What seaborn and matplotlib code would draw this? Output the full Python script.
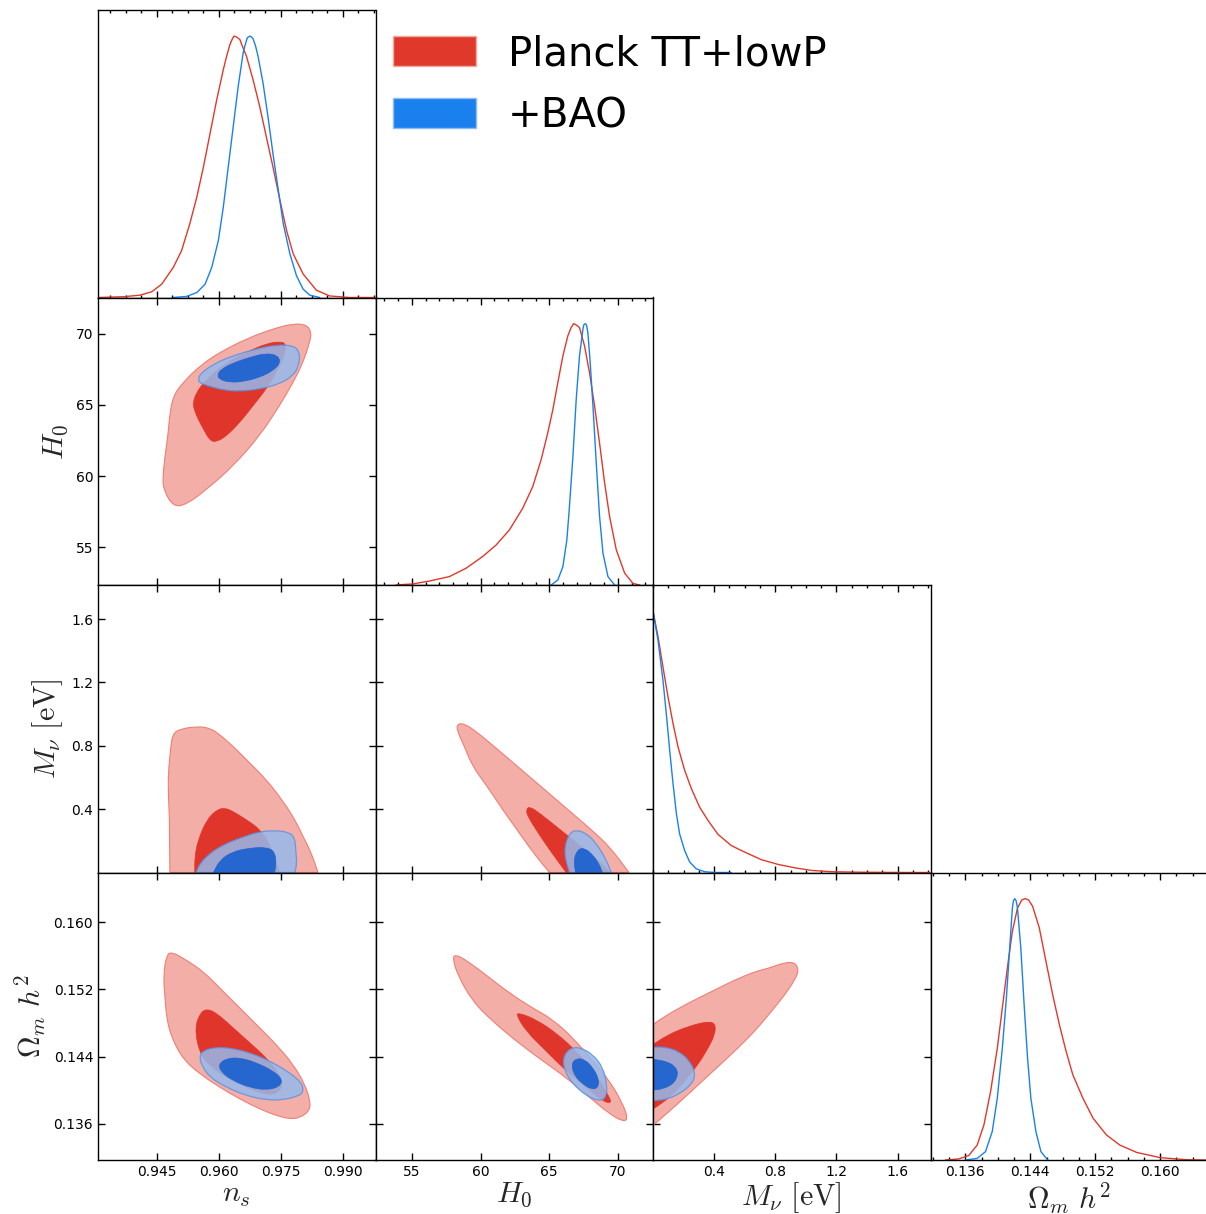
import matplotlib
matplotlib.use("Agg")
import matplotlib.pyplot as plt
import seaborn as sns
from matplotlib.patches import Patch, PathPatch
from matplotlib.path import Path
from matplotlib.ticker import FixedLocator, MultipleLocator, FormatStrFormatter, NullLocator

# ---- 1D marginals (peak normalised to 1) ----
ns_planck_x = [0.9309, 0.9370, 0.9410, 0.9438, 0.9462, 0.9490, 0.9510, 0.9530, 0.9547, 0.9563,
               0.9579, 0.9595, 0.9611, 0.9619, 0.9627, 0.9633, 0.9637, 0.9643, 0.9651, 0.9659,
               0.9667, 0.9683, 0.9699, 0.9715, 0.9731, 0.9748, 0.9764, 0.9780, 0.9804, 0.9836,
               0.9868, 0.9916, 0.9977]
ns_planck_p = [0.0, 0.003, 0.009, 0.022, 0.051, 0.115, 0.179, 0.282, 0.385, 0.5,
               0.628, 0.756, 0.872, 0.923, 0.968, 0.990, 1.0, 0.997, 0.987, 0.954,
               0.923, 0.833, 0.731, 0.615, 0.5, 0.372, 0.256, 0.167, 0.090, 0.028,
               0.006, 0.0, 0.0]
ns_bao_x = [0.9490, 0.9522, 0.9547, 0.9567, 0.9583, 0.9599, 0.9611, 0.9623, 0.9635, 0.9647,
            0.9659, 0.9663, 0.9669, 0.9675, 0.9679, 0.9683, 0.9689, 0.9695, 0.9707, 0.9719,
            0.9731, 0.9744, 0.9756, 0.9772, 0.9788, 0.9804, 0.9820, 0.9844]
ns_bao_p = [0.0, 0.004, 0.019, 0.051, 0.115, 0.218, 0.346, 0.5, 0.654, 0.808,
            0.936, 0.962, 0.994, 1.0, 0.997, 0.990, 0.962, 0.923, 0.821, 0.692,
            0.551, 0.410, 0.282, 0.167, 0.083, 0.032, 0.009, 0.0]

H0_planck_x = [53.83, 55.05, 56.26, 57.72, 58.94, 60.15, 61.13, 62.10, 63.07, 63.80,
               64.41, 64.89, 65.26, 65.62, 65.99, 66.35, 66.59, 66.77, 66.96, 67.20,
               67.57, 67.93, 68.30, 68.66, 69.03, 69.39, 69.88, 70.49, 71.09, 71.58]
H0_planck_p = [0.0, 0.004, 0.015, 0.032, 0.064, 0.109, 0.153, 0.211, 0.294, 0.377,
               0.480, 0.582, 0.671, 0.774, 0.876, 0.953, 0.985, 1.0, 0.995, 0.985,
               0.914, 0.812, 0.684, 0.543, 0.390, 0.262, 0.134, 0.045, 0.006, 0.0]
H0_bao_x = [65.14, 65.62, 65.99, 66.28, 66.47, 66.72, 66.96, 67.20, 67.45, 67.52,
            67.62, 67.71, 67.81, 67.98, 68.18, 68.42, 68.66, 68.91, 69.27, 69.76]
H0_bao_p = [0.0, 0.019, 0.070, 0.173, 0.301, 0.492, 0.710, 0.877, 0.979, 0.996,
            1.0, 0.995, 0.965, 0.850, 0.684, 0.467, 0.262, 0.121, 0.032, 0.0]

mnu_planck_x = [0.0, 0.033, 0.065, 0.098, 0.131, 0.164, 0.207, 0.251, 0.305, 0.360,
                0.425, 0.512, 0.600, 0.709, 0.818, 0.927, 1.036, 1.166, 1.363, 1.690, 1.810]
mnu_planck_p = [1.0, 0.902, 0.787, 0.672, 0.570, 0.480, 0.391, 0.321, 0.250, 0.199,
                0.146, 0.103, 0.078, 0.049, 0.031, 0.018, 0.008, 0.003, 0.001, 0.0, 0.0]
mnu_bao_x = [0.0, 0.033, 0.065, 0.087, 0.109, 0.131, 0.153, 0.174, 0.207, 0.240,
             0.283, 0.338, 0.403, 0.512]
mnu_bao_p = [1.0, 0.888, 0.736, 0.608, 0.468, 0.340, 0.225, 0.148, 0.084, 0.040,
             0.014, 0.003, 0.0, 0.0]

omh2_planck_x = [0.13352, 0.13517, 0.13641, 0.13745, 0.13828, 0.13910, 0.13993, 0.14055, 0.14117,
                 0.14179, 0.14242, 0.14295, 0.14337, 0.14378, 0.14428, 0.14511, 0.14593, 0.14676,
                 0.14759, 0.14842, 0.14924, 0.15049, 0.15173, 0.15338, 0.15504, 0.15711, 0.16001,
                 0.16332, 0.16572]
omh2_planck_p = [0.0, 0.004, 0.017, 0.057, 0.134, 0.261, 0.427, 0.581, 0.734,
                 0.875, 0.964, 0.995, 1.0, 0.995, 0.971, 0.888, 0.760, 0.632,
                 0.517, 0.415, 0.326, 0.236, 0.160, 0.096, 0.057, 0.029, 0.009,
                 0.001, 0.0]
omh2_bao_x = [0.13600, 0.13745, 0.13848, 0.13931, 0.13993, 0.14055, 0.14105, 0.14146, 0.14179,
              0.14192, 0.14208, 0.14225, 0.14242, 0.14283, 0.14324, 0.14366, 0.14407, 0.14469,
              0.14531, 0.14614]
omh2_bao_p = [0.0, 0.006, 0.032, 0.109, 0.236, 0.427, 0.619, 0.811, 0.964,
              0.992, 1.0, 0.992, 0.964, 0.811, 0.594, 0.390, 0.236, 0.109,
              0.032, 0.0]

# ---- 2D contours (95% / 68% outlines, x list, y list) ----
ns_H0_planck95 = ([0.9466, 0.9490, 0.9522, 0.9571, 0.9635, 0.9699, 0.9747, 0.9780, 0.9804, 0.9820, 0.9824, 0.9812,
                   0.9780, 0.9731, 0.9667, 0.9603, 0.9555, 0.9514, 0.9490, 0.9481, 0.9478, 0.9470, 0.9465],
                  [59.07, 57.84, 58.01, 59.07, 60.71, 62.83, 64.95, 66.59, 68.00, 69.41, 70.12, 70.64,
                   70.71, 70.35, 69.65, 68.71, 67.77, 66.59, 65.65, 64.24, 63.06, 61.42, 60.01])
ns_H0_planck68 = ([0.9538, 0.9546, 0.9571, 0.9619, 0.9675, 0.9715, 0.9747, 0.9763, 0.9759, 0.9739,
                   0.9715, 0.9683, 0.9651, 0.9619, 0.9595, 0.9579, 0.9563, 0.9550, 0.9540],
                  [65.18, 65.89, 66.83, 68.00, 68.82, 69.30, 69.46, 69.30, 68.47, 67.30,
                   66.12, 64.95, 63.77, 62.83, 62.41, 62.48, 63.30, 64.00, 64.71])
ns_H0_bao95 = ([0.9551, 0.9555, 0.9587, 0.9635, 0.9691, 0.9739, 0.9780, 0.9796,
                0.9794, 0.9780, 0.9747, 0.9699, 0.9651, 0.9611, 0.9571, 0.9552],
               [66.83, 67.18, 67.88, 68.47, 68.94, 69.22, 69.18, 68.71,
                67.77, 67.06, 66.47, 66.12, 65.96, 66.05, 66.36, 66.59])
ns_H0_bao68 = ([0.9596, 0.9607, 0.9635, 0.9675, 0.9715, 0.9743, 0.9749, 0.9731, 0.9699, 0.9659, 0.9627, 0.9603],
               [67.11, 67.53, 67.95, 68.35, 68.64, 68.47, 67.95, 67.41, 66.94, 66.64, 66.59, 66.78])

ns_mnu_planck95 = ([0.9482, 0.9481, 0.9481, 0.9478, 0.9478, 0.9484, 0.9489, 0.9506, 0.9546, 0.9579,
                    0.9603, 0.9635, 0.9675, 0.9715, 0.9747, 0.9780, 0.9804, 0.9824, 0.9840],
                   [0.0, 0.164, 0.333, 0.501, 0.627, 0.796, 0.876, 0.905, 0.922, 0.912,
                    0.869, 0.796, 0.691, 0.585, 0.480, 0.354, 0.227, 0.122, 0.0])
ns_mnu_planck68 = ([0.9542, 0.9542, 0.9550, 0.9571, 0.9595, 0.9615, 0.9635, 0.9667, 0.9699, 0.9719, 0.9735, 0.9747],
                   [0.0, 0.101, 0.206, 0.333, 0.396, 0.408, 0.385, 0.333, 0.274, 0.196, 0.101, 0.0])
ns_mnu_bao95 = ([0.9545, 0.9555, 0.9579, 0.9611, 0.9651, 0.9699, 0.9739, 0.9771, 0.9784, 0.9786, 0.9789, 0.9784],
                [0.0, 0.059, 0.122, 0.175, 0.217, 0.259, 0.265, 0.253, 0.217, 0.143, 0.059, 0.0])
ns_mnu_bao68 = ([0.9587, 0.9603, 0.9635, 0.9675, 0.9715, 0.9735, 0.9739, 0.9735],
                [0.0, 0.080, 0.133, 0.154, 0.160, 0.133, 0.059, 0.0])

ns_omh2_planck95 = ([0.9474, 0.9486, 0.9522, 0.9563, 0.9603, 0.9651, 0.9699, 0.9739, 0.9780, 0.9808, 0.9821, 0.9820,
                     0.9796, 0.9771, 0.9739, 0.9699, 0.9651, 0.9603, 0.9555, 0.9514, 0.9486, 0.9474, 0.9470, 0.9466],
                    [0.15607, 0.15646, 0.15548, 0.15410, 0.15213, 0.14977, 0.14741, 0.14544, 0.14308, 0.14072,
                     0.13876, 0.13758, 0.13671, 0.13659, 0.13699, 0.13777, 0.13895, 0.14033, 0.14191, 0.14367,
                     0.14623, 0.14859, 0.15095, 0.15371])
ns_omh2_planck68 = ([0.9542, 0.9555, 0.9571, 0.9595, 0.9635, 0.9675, 0.9715, 0.9747, 0.9755, 0.9739,
                     0.9707, 0.9667, 0.9619, 0.9579, 0.9553],
                    [0.14741, 0.14918, 0.14969, 0.14918, 0.14741, 0.14564, 0.14387, 0.14190, 0.14053, 0.13954,
                     0.13954, 0.14033, 0.14151, 0.14289, 0.14446])
ns_omh2_bao95 = ([0.9553, 0.9563, 0.9595, 0.9635, 0.9683, 0.9731, 0.9771, 0.9800,
                  0.9805, 0.9796, 0.9755, 0.9715, 0.9667, 0.9619, 0.9579, 0.9559],
                 [0.14407, 0.14474, 0.14513, 0.14497, 0.14434, 0.14328, 0.14210, 0.14092,
                  0.13994, 0.13935, 0.13884, 0.13884, 0.13935, 0.14033, 0.14151, 0.14289])
ns_omh2_bao68 = ([0.9599, 0.9619, 0.9651, 0.9691, 0.9731, 0.9754, 0.9747, 0.9715, 0.9675, 0.9635, 0.9607],
                 [0.14308, 0.14379, 0.14387, 0.14328, 0.14230, 0.14131, 0.14041, 0.14002, 0.14033, 0.14112, 0.14210])

H0_mnu_planck95 = ([65.02, 64.04, 62.83, 61.61, 60.40, 59.42, 58.82, 58.26, 58.33,
                    58.82, 59.67, 61.13, 62.83, 64.53, 66.23, 67.93, 69.39, 70.80],
                   [0.0, 0.101, 0.248, 0.396, 0.554, 0.669, 0.796, 0.901, 0.939,
                    0.939, 0.891, 0.785, 0.659, 0.533, 0.406, 0.280, 0.164, 0.0])
H0_mnu_planck68 = ([63.31, 63.56, 64.29, 65.50, 66.72, 67.93, 68.91, 69.39, 66.23, 65.02, 64.04, 63.44],
                   [0.396, 0.417, 0.375, 0.291, 0.206, 0.122, 0.048, 0.0, 0.0, 0.143, 0.269, 0.354])
H0_mnu_bao95 = ([66.11, 66.47, 66.96, 67.69, 68.42, 69.15, 69.51, 66.47, 66.18],
                [0.164, 0.248, 0.269, 0.248, 0.185, 0.080, 0.0, 0.0, 0.080])
H0_mnu_bao68 = ([66.77, 67.08, 67.57, 68.18, 68.66, 68.86, 66.91],
                [0.080, 0.147, 0.154, 0.111, 0.048, 0.0, 0.0])

H0_omh2_planck95 = ([57.97, 58.16, 58.94, 60.40, 62.10, 63.80, 65.26, 66.72, 68.18, 69.39, 70.36,
                     70.73, 70.36, 69.39, 67.93, 66.23, 64.53, 62.59, 60.88, 59.42, 58.33],
                    [0.15567, 0.15615, 0.15548, 0.15371, 0.15154, 0.14977, 0.14840, 0.14623, 0.14348, 0.14112,
                     0.13836, 0.13659, 0.13628, 0.13718, 0.13915, 0.14151, 0.14348, 0.14584, 0.14820, 0.15056,
                     0.15371])
H0_omh2_planck68 = ([62.59, 62.83, 64.04, 65.50, 66.96, 68.42, 69.39, 69.51, 68.91, 67.69, 66.23, 64.77, 63.31],
                    [0.14899, 0.14918, 0.14840, 0.14682, 0.14466, 0.14190, 0.13915, 0.13844, 0.13868, 0.14033,
                     0.14230, 0.14466, 0.14702])
H0_omh2_bao95 = ([65.99, 66.47, 67.20, 68.18, 68.91, 69.20, 69.15, 68.66, 67.69, 66.72, 66.11],
                 [0.14387, 0.14497, 0.14513, 0.14426, 0.14269, 0.14072, 0.13915, 0.13868, 0.13935, 0.14072, 0.14230])
H0_omh2_bao68 = ([66.60, 66.96, 67.57, 68.18, 68.61, 68.54, 68.05, 67.45, 66.84],
                 [0.14308, 0.14379, 0.14367, 0.14269, 0.14131, 0.14025, 0.14013, 0.14072, 0.14171])

mnu_omh2_planck95 = ([0.0, 0.078, 0.209, 0.383, 0.536, 0.666, 0.753, 0.862, 0.928, 0.954,
                      0.928, 0.862, 0.775, 0.666, 0.536, 0.383, 0.231, 0.100, 0.0],
                     [0.14781, 0.14879, 0.15017, 0.15174, 0.15312, 0.15410, 0.15449, 0.15520, 0.15520, 0.15430,
                      0.15312, 0.15135, 0.14938, 0.14702, 0.14466, 0.14210, 0.13954, 0.13738, 0.13581])
mnu_omh2_planck68 = ([0.0, 0.100, 0.231, 0.362, 0.409, 0.405, 0.362, 0.296, 0.209, 0.122, 0.035, 0.0],
                     [0.14544, 0.14662, 0.14761, 0.14820, 0.14788, 0.14662, 0.14505, 0.14308, 0.14112,
                      0.13935, 0.13817, 0.13777])
mnu_omh2_bao95 = ([0.0, 0.078, 0.166, 0.242, 0.279, 0.253, 0.187, 0.100, 0.013, 0.0],
                  [0.14513, 0.14513, 0.14466, 0.14348, 0.14190, 0.14072, 0.13974, 0.13895, 0.13876, 0.13876])
mnu_omh2_bao68 = ([0.0, 0.078, 0.144, 0.166, 0.133, 0.057, 0.0],
                  [0.14367, 0.14348, 0.14289, 0.14190, 0.14072, 0.14013, 0.14002])

# ---- axes setup ----
labels = [r"$n_s$", r"$H_0$", r"$M_\nu\ [\mathrm{eV}]$", r"$\Omega_m\ h^2$"]
lims = [(0.9308, 0.9979), (52.35, 72.55), (0.0, 1.815), (0.1317, 0.1659)]
major_ticks = [[0.945, 0.960, 0.975, 0.990], [55, 60, 65, 70], [0.4, 0.8, 1.2, 1.6], [0.136, 0.144, 0.152, 0.160]]
minor_steps = [0.00375, 1.0, 0.1, 0.002]
fmts = ["%.3f", "%d", "%.1f", "%.3f"]
legend_labels = ["Planck TT+lowP", "+BAO"]

marginals = [
    [(ns_planck_x, ns_planck_p), (ns_bao_x, ns_bao_p)],
    [(H0_planck_x, H0_planck_p), (H0_bao_x, H0_bao_p)],
    [(mnu_planck_x, mnu_planck_p), (mnu_bao_x, mnu_bao_p)],
    [(omh2_planck_x, omh2_planck_p), (omh2_bao_x, omh2_bao_p)],
]
contours = {
    (1, 0): [ns_H0_planck95, ns_H0_planck68, ns_H0_bao95, ns_H0_bao68],
    (2, 0): [ns_mnu_planck95, ns_mnu_planck68, ns_mnu_bao95, ns_mnu_bao68],
    (3, 0): [ns_omh2_planck95, ns_omh2_planck68, ns_omh2_bao95, ns_omh2_bao68],
    (2, 1): [H0_mnu_planck95, H0_mnu_planck68, H0_mnu_bao95, H0_mnu_bao68],
    (3, 1): [H0_omh2_planck95, H0_omh2_planck68, H0_omh2_bao95, H0_omh2_bao68],
    (3, 2): [mnu_omh2_planck95, mnu_omh2_planck68, mnu_omh2_bao95, mnu_omh2_bao68],
}

line_colors = ["#e0392b", "#1a80ee"]
fill_styles = [
    dict(facecolor="#f3aea7", edgecolor="#ee7f74", linewidth=0.8),
    dict(facecolor="#e0352a", edgecolor="#e0352a", linewidth=0.5),
    dict(facecolor="#96b9eb", edgecolor="#5b92e2", linewidth=0.9, alpha=0.85),
    dict(facecolor="#1f63d0", edgecolor="#1f63d0", linewidth=0.5, alpha=0.95),
]


def contour_patch(xs, ys, **kw):
    # closed quadratic-spline outline through the read points; points on the
    # M_nu = 0 boundary are kept as sharp corners
    pts = list(zip(xs, ys))
    n = len(pts)
    mids = [((pts[k][0] + pts[(k + 1) % n][0]) / 2, (pts[k][1] + pts[(k + 1) % n][1]) / 2) for k in range(n)]
    verts = [mids[-1]]
    codes = [Path.MOVETO]
    for k in range(n):
        if pts[k][0] == 0.0 or pts[k][1] == 0.0:
            verts += [pts[k], mids[k]]
            codes += [Path.LINETO, Path.LINETO]
        else:
            verts += [pts[k], mids[k]]
            codes += [Path.CURVE3, Path.CURVE3]
    verts.append(mids[-1])
    codes.append(Path.CLOSEPOLY)
    return PathPatch(Path(verts, codes), **kw)


sns.set_style("white")
plt.rcParams.update({
    "mathtext.fontset": "cm",
    "axes.edgecolor": "black",
    "axes.linewidth": 1.0,
    "text.color": "black",
    "xtick.color": "black",
    "ytick.color": "black",
})

W, H = 1206, 1214
x0, y0 = 98, 10
cw, rh = 277.5, 287.5

fig = plt.figure(figsize=(W / 100, H / 100), dpi=100)

for i in range(4):
    for j in range(i + 1):
        rect = [(x0 + j * cw) / W, 1 - (y0 + (i + 1) * rh) / H, cw / W, rh / H]
        ax = fig.add_axes(rect)
        for s in ax.spines.values():
            s.set_color("black")
            s.set_linewidth(1.0)
        ax.set_xlim(*lims[j])
        ax.xaxis.set_major_locator(FixedLocator(major_ticks[j]))
        ax.xaxis.set_major_formatter(FormatStrFormatter(fmts[j]))
        if i == j:
            for (xs, ps), c in zip(marginals[i], line_colors):
                sns.lineplot(x=xs, y=ps, ax=ax, color=c, linewidth=1.0, estimator=None, sort=False)
            ax.set_ylim(0, 1.1)
            ax.xaxis.set_minor_locator(MultipleLocator(minor_steps[j]))
            ax.yaxis.set_major_locator(NullLocator())
            ax.tick_params(axis="x", which="both", direction="in", top=True, bottom=True,
                           labelbottom=(i == 3), labelsize=10, width=1, colors="black")
            ax.tick_params(axis="x", which="major", length=5)
            ax.tick_params(axis="x", which="minor", length=2.5)
        else:
            for (xs, ys), st in zip(contours[(i, j)], fill_styles):
                ax.add_patch(contour_patch(xs, ys, **st))
            ax.set_ylim(*lims[i])
            ax.yaxis.set_major_locator(FixedLocator(major_ticks[i]))
            ax.yaxis.set_major_formatter(FormatStrFormatter(fmts[i]))
            ax.tick_params(which="major", direction="in", length=5, width=1,
                           top=True, bottom=True, left=True, right=True,
                           labelleft=(j == 0), labelbottom=(i == 3), labelsize=10, colors="black")
            ax.tick_params(which="minor", length=0)
            if j == 0:
                ax.set_ylabel(labels[i], fontsize=21.5, labelpad=4)
        if i == 3:
            ax.set_xlabel(labels[j], fontsize=21.5, labelpad=1)
        else:
            ax.set_xlabel("")
        if j > 0 or i == 0:
            ax.set_ylabel("")

handles = [Patch(facecolor=line_colors[0], edgecolor="#f2aaa2", linewidth=1.0),
           Patch(facecolor=line_colors[1], edgecolor="#8cbcf2", linewidth=1.0)]
fig.legend(handles=handles, labels=legend_labels, loc="upper left",
           bbox_to_anchor=(393 / W, 1 - 34 / H), frameon=False, fontsize=29,
           handlelength=2.06, handleheight=0.77, handletextpad=0.8,
           labelspacing=0.55, borderpad=0, borderaxespad=0)

fig.savefig("out.png", dpi=100)
